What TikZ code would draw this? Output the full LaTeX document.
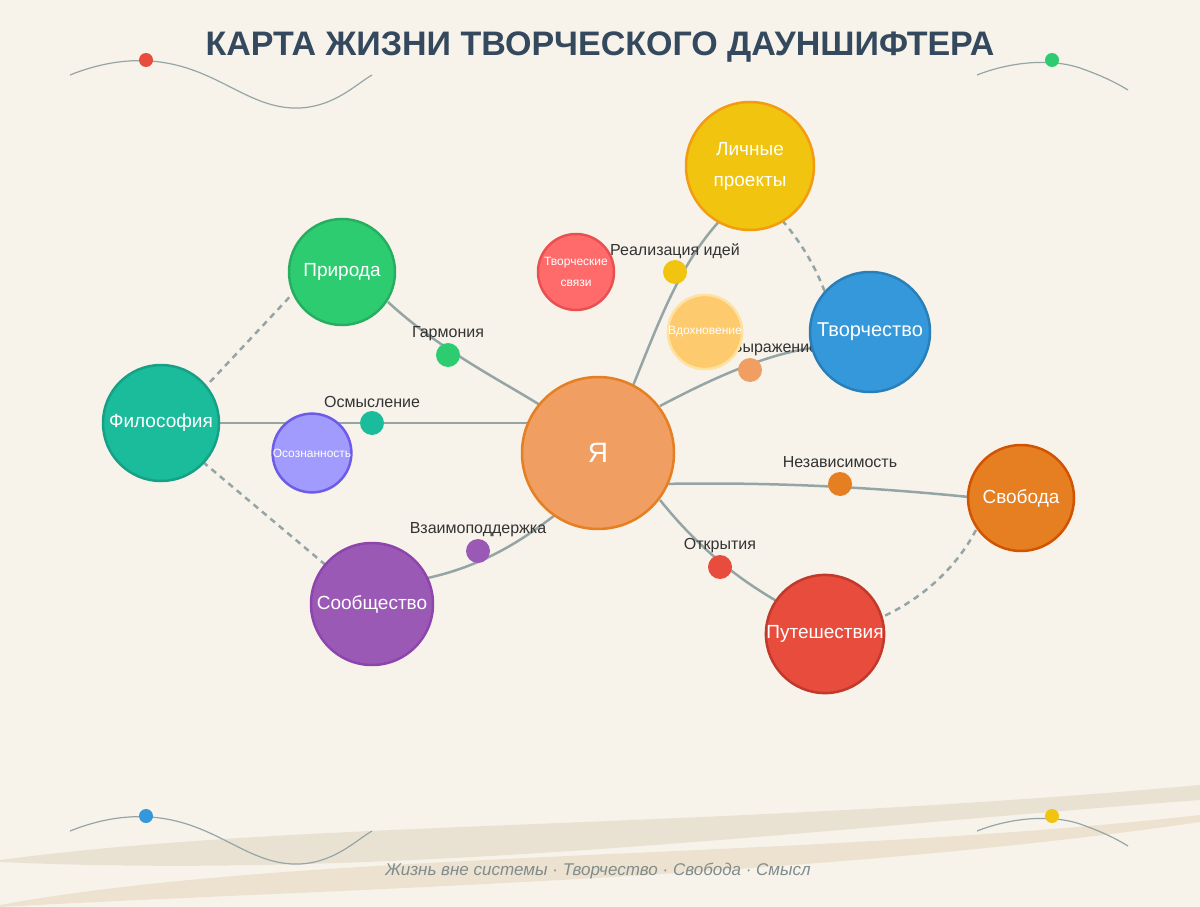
\documentclass[tikz,border=0pt]{standalone}
\usepackage{fontspec}
\setmainfont{Liberation Sans}
\definecolor{bg}{HTML}{F7F3EA}
\definecolor{ln}{HTML}{95A5A6}
\definecolor{band1}{HTML}{DCD2BE}
\definecolor{band2}{HTML}{E1CDAF}
\definecolor{cred}{HTML}{E74C3C}
\definecolor{cgreen}{HTML}{2ECC71}
\definecolor{cblue}{HTML}{3498DB}
\definecolor{cyel}{HTML}{F1C40F}
\definecolor{cteal}{HTML}{1ABC9C}
\definecolor{cpurp}{HTML}{9B59B6}
\definecolor{cpeach}{HTML}{F19E62}
\definecolor{corng}{HTML}{E67E22}
\definecolor{kme}{HTML}{E67E22}
\definecolor{kyel}{HTML}{F39C12}
\definecolor{kblue}{HTML}{2980B9}
\definecolor{korng}{HTML}{D35400}
\definecolor{kred}{HTML}{C0392B}
\definecolor{kpurp}{HTML}{8E44AD}
\definecolor{kteal}{HTML}{16A085}
\definecolor{kgreen}{HTML}{27AE60}
\definecolor{csvy}{HTML}{FF6B6B}
\definecolor{ksvy}{HTML}{EB5050}
\definecolor{cvdoh}{HTML}{FECA6E}
\definecolor{kvdoh}{HTML}{FFE1A0}
\definecolor{cosoz}{HTML}{A29BFE}
\definecolor{kosoz}{HTML}{6C5CE7}
\definecolor{ttl}{HTML}{34495E}
\definecolor{ftr}{HTML}{7F8C8D}
\definecolor{labc}{HTML}{333333}
\begin{document}
\begin{tikzpicture}[x=1pt,y=-1pt,
  bub/.style={circle,line width=2.5pt,text=white,align=center,inner sep=0pt},
  con/.style={draw=ln,line width=2.5pt},
  dsh/.style={draw=ln,line width=2.5pt,dash pattern=on 6pt off 5pt},
  lab/.style={text=labc,font=\fontsize{16}{18}\selectfont},
  dot/.style={circle,inner sep=0pt,minimum size=24pt},
  deco/.style={draw=ln,line width=1.2pt}]
\fill[bg] (0,0) rectangle (1200,907);
\useasboundingbox (0,0) rectangle (1200,907);
% bottom bands
\fill[band1,opacity=0.5] (0,860) .. controls (300,820) and (700,830) .. (1200,785) -- (1200,800) .. controls (800,830) and (400,880) .. (0,862) -- cycle;
\fill[band2,opacity=0.45] (0,905) .. controls (300,850) and (800,860) .. (1200,815) -- (1200,822) .. controls (800,880) and (300,890) .. (0,907) -- cycle;
% decorations
\draw[deco] (70,75) .. controls (100,63) and (130,58) .. (160,62) .. controls (220,70) and (250,110) .. (300,108) .. controls (335,106) and (355,85) .. (372,75);
\draw[deco] (977,75) .. controls (1010,62) and (1050,58) .. (1080,68) .. controls (1100,75) and (1115,82) .. (1128,90);
\draw[deco] (70,831) .. controls (100,819) and (130,814) .. (160,818) .. controls (220,826) and (250,866) .. (300,864) .. controls (335,862) and (355,841) .. (372,831);
\draw[deco] (977,831) .. controls (1010,818) and (1050,814) .. (1080,824) .. controls (1100,831) and (1115,838) .. (1128,846);
\fill[cred] (146,60) circle (7);
\fill[cgreen] (1052,60) circle (7);
\fill[cblue] (146,816) circle (7);
\fill[cyel] (1052,816) circle (7);
% title
\node (title) at (600,47) {\fontsize{34}{38}\selectfont\bfseries\color{ttl}КАРТА ЖИЗНИ ТВОРЧЕСКОГО ДАУНШИФТЕРА};
\node (foot) at (598,871) {\fontsize{17}{20}\selectfont\itshape\color{ftr}Жизнь вне системы · Творчество · Свобода · Смысл};
% anchor coordinates
\coordinate (a1) at (540,405); \coordinate (b1) at (388,302);
\coordinate (a2) at (540,423); \coordinate (b2) at (219,423);
\coordinate (a3) at (555,515); \coordinate (b3) at (418,580);
\coordinate (a4) at (630,393); \coordinate (b4) at (728,212);
\coordinate (a5) at (660,406); \coordinate (b5) at (812,348);
\coordinate (a6) at (660,484); \coordinate (b6) at (969,497);
\coordinate (a7) at (660,500); \coordinate (b7) at (780,603);
\draw[con] (a1) .. controls (500,380) and (440,350) .. (b1);
\draw[con] (a2) -- (b2);
\draw[con] (a3) .. controls (510,550) and (470,570) .. (b3);
\draw[con] (a4) .. controls (660,320) and (680,260) .. (b4);
\draw[con] (a5) .. controls (700,385) and (760,355) .. (b5);
\draw[con] (a6) .. controls (760,482) and (860,486) .. (b6);
\draw[con] (a7) .. controls (700,550) and (740,580) .. (b7);
\draw[dsh] (210,382) -- (298,288);
\draw[dsh] (203,462) -- (328,567);
\draw[dsh] (775,212) .. controls (800,240) and (815,265) .. (826,295);
\draw[dsh] (976,530) .. controls (955,570) and (920,600) .. (880,618);
% labels
\node[lab] (l1) at (448,334) {Гармония};
\node[lab] (l2) at (372,402) {Осмысление};
\node[lab] (l3) at (478,530) {Взаимоподдержка};
\node[lab] (l4) at (675,251) {Реализация идей};
\node[lab] (l5) at (775,349) {Выражение};
\node[lab] (l6) at (840,462) {Независимость};
\node[lab] (l7) at (720,546) {Открытия};
\node[dot,fill=cgreen] (d1) at (448,355) {};
\node[dot,fill=cteal] (d2) at (372,423) {};
\node[dot,fill=cpurp] (d3) at (478,551) {};
\node[dot,fill=cyel] (d4) at (675,272) {};
\node[dot,fill=cpeach] (d5) at (750,370) {};
\node[dot,fill=corng] (d6) at (840,484) {};
\node[dot,fill=cred] (d7) at (720,567) {};
% bubbles
\node[bub,minimum size=152pt,fill=cpeach,draw=kme,font=\fontsize{28}{30}\selectfont] (me) at (598,453) {Я};
\node[bub,minimum size=128pt,fill=cyel,draw=kyel,font=\fontsize{19}{31}\selectfont] (proj) at (750,166) {Личные\\проекты};
\node[bub,minimum size=120pt,fill=cblue,draw=kblue,font=\fontsize{20}{24}\selectfont] (tvor) at (870,332) {Творчество};
\node[bub,minimum size=106pt,fill=corng,draw=korng,font=\fontsize{19}{22}\selectfont] (svob) at (1021,498) {Свобода};
\node[bub,minimum size=116pt,fill=cred,draw=kred,font=\fontsize{19}{22}\selectfont] (put) at (825,634) {Путешествия};
\node[bub,minimum size=122pt,fill=cpurp,draw=kpurp,font=\fontsize{19}{22}\selectfont] (soob) at (372,604) {Сообщество};
\node[bub,minimum size=116pt,fill=cteal,draw=kteal,font=\fontsize{19}{22}\selectfont] (fil) at (161,423) {Философия};
\node[bub,minimum size=106pt,fill=cgreen,draw=kgreen,font=\fontsize{19}{22}\selectfont] (prir) at (342,272) {Природа};
\node[bub,minimum size=76pt,fill=csvy,draw=ksvy,font=\fontsize{12}{21}\selectfont] (svy) at (576,272) {Творческие\\связи};
\node[bub,minimum size=66pt,fill=cvdoh,draw=kvdoh,font=\fontsize{12}{14}\selectfont] (vdoh) at (705,332) {Вдохновение};
\node[bub,minimum size=76pt,fill=cosoz,draw=kosoz,font=\fontsize{12}{14}\selectfont] (osoz) at (312,453) {Осознанность};
\end{tikzpicture}
\end{document}
